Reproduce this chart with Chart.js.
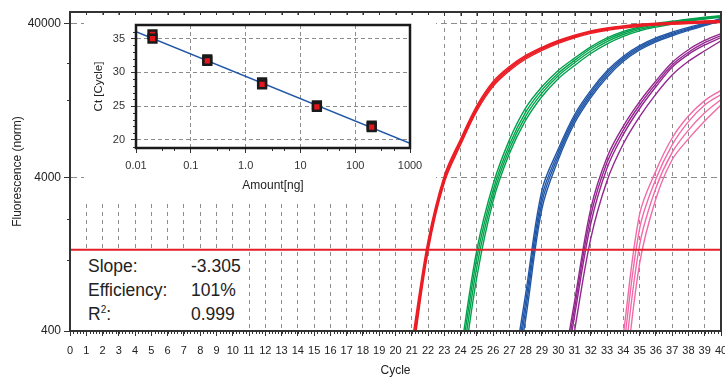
<!DOCTYPE html>
<html>
<head>
<meta charset="utf-8">
<script src="https://cdn.jsdelivr.net/npm/chart.js@4.4.1/dist/chart.umd.min.js"></script>
<style>
  html, body { margin: 0; padding: 0; background: #fff; }
  #wrap { position: relative; width: 725px; height: 377px; overflow: hidden; font-family: "Liberation Sans", Arial, sans-serif; }
  #main { position: absolute; left: 0; top: 0; }
  #inset { position: absolute; left: 84px; top: 15px; background: #fff; }
  #stats { position: absolute; left: 72px; top: 252px; width: 174px; height: 77px; background: #fff; color: #222; font-size: 17.5px; }
  #stats div { position: absolute; line-height: 20px; white-space: nowrap; }
  #stats sup { font-size: 10px; vertical-align: 7px; line-height: 0; }
</style>
</head>
<body>
<div id="wrap">
  <canvas id="main" width="725" height="377"></canvas>
  <canvas id="inset" width="352" height="188"></canvas>
  <div id="stats">
    <div style="left:16px; top:4px">Slope:</div><div style="left:119px; top:4px">-3.305</div>
    <div style="left:16px; top:28px">Efficiency:</div><div style="left:119px; top:28px">101%</div>
    <div style="left:16px; top:52px">R<sup>2</sup>:</div><div style="left:119px; top:52px">0.999</div>
  </div>
</div>
<script>
const FONT = '"Liberation Sans", Arial, sans-serif';

// amplification curves: fluorescence per cycle, 4 replicates per standard
const redCycles = [21, 22, 23, 24, 25, 26, 27, 28, 29, 30, 31, 32, 33, 34, 35, 36, 37, 38, 39, 40];
const redRuns = [
  [330, 1550, 4100, 7100, 11700, 16800, 21000, 24800, 28000, 31000, 33600, 35800, 37400, 38600, 39500, 40200, 40700, 41100, 41500, 41800],
  [300, 1460, 3950, 6900, 11400, 16400, 20600, 24400, 27600, 30600, 33200, 35400, 37000, 38300, 39200, 39900, 40400, 40800, 41200, 41500],
  [270, 1390, 3820, 6700, 11100, 16000, 20200, 24000, 27200, 30200, 32800, 35000, 36600, 37900, 38800, 39500, 40000, 40400, 40800, 41100],
  [250, 1320, 3700, 6500, 10800, 15600, 19700, 23500, 26700, 29700, 32300, 34500, 36100, 37400, 38300, 39000, 39500, 39900, 40300, 40600]
];
const greenCycles = [24, 25, 26, 27, 28, 29, 30, 31, 32, 33, 34, 35, 36, 37, 38, 39, 40];
const greenRuns = [
  [290, 1350, 3600, 7000, 11300, 15500, 19800, 23800, 28200, 32200, 35500, 38000, 39900, 41400, 42700, 43900, 45000],
  [250, 1200, 3300, 6500, 10600, 14800, 19000, 23000, 27400, 31400, 34800, 37400, 39300, 40900, 42300, 43500, 44600],
  [210, 1050, 3050, 6100, 10000, 14100, 18300, 22200, 26500, 30500, 33900, 36600, 38600, 40300, 41800, 43100, 44200],
  [170, 900, 2800, 5700, 9400, 13400, 17500, 21300, 25500, 29500, 33000, 35800, 37900, 39700, 41300, 42700, 43900]
];
const blueCycles = [27, 28, 29, 30, 31, 32, 33, 34, 35, 36, 37, 38, 39, 40];
const blueRuns = [
  [150, 700, 3300, 6100, 10200, 14700, 19700, 24500, 28700, 32200, 35100, 37700, 40200, 43100],
  [130, 620, 3000, 5800, 9800, 14200, 19100, 23900, 28100, 31600, 34500, 37100, 39700, 42700],
  [120, 550, 2750, 5500, 9400, 13700, 18500, 23300, 27500, 31000, 33900, 36600, 39200, 42300],
  [110, 480, 2500, 5200, 9000, 13200, 17900, 22700, 26900, 30400, 33300, 36100, 38700, 41900]
];
const purpleCycles = [30, 31, 32, 33, 34, 35, 36, 37, 38, 39, 40];
const purpleRuns = [
  [150, 620, 2500, 5400, 8600, 12400, 16900, 22300, 27000, 31000, 34400],
  [130, 560, 2250, 5000, 8100, 11800, 16200, 21500, 26000, 30000, 33400],
  [115, 500, 2000, 4600, 7600, 11200, 15500, 20800, 25200, 29000, 32400],
  [90, 400, 1600, 3800, 6600, 9900, 13900, 18500, 22700, 26600, 30800]
];
const pinkCycles = [33, 34, 35, 36, 37, 38, 39, 40];
const pinkRuns = [
  [60, 380, 2300, 4400, 7200, 10000, 12600, 14700],
  [45, 300, 1850, 3900, 6500, 9200, 11800, 13800],
  [30, 220, 1450, 3400, 5800, 8100, 10500, 12800],
  [20, 150, 1100, 2900, 5200, 7100, 9300, 11800]
];
const thresholdCycles = [0, 40];
const thresholdLevel = [1350, 1350];

// axes
const cycleTicks = [0, 1, 2, 3, 4, 5, 6, 7, 8, 9, 10, 11, 12, 13, 14, 15, 16, 17, 18, 19, 20,
  21, 22, 23, 24, 25, 26, 27, 28, 29, 30, 31, 32, 33, 34, 35, 36, 37, 38, 39, 40];
const yTicks = [400, 4000, 40000];
const yTickLabels = ['400', '4000', '40000'];
const yMinorTicks = [1150, 2150, 12800, 22000];

// standard curve inset
const stdAmount = [0.02, 0.02, 0.2, 0.2, 2, 2, 20, 20, 200, 200];
const stdCt = [35.6, 35.0, 31.9, 31.7, 28.5, 28.2, 25.1, 24.9, 22.1, 21.9];
const fitAmount = [0.01, 1000];
const fitCt = [36.0, 19.5];
const insetXTicks = [0.01, 0.1, 1, 10, 100, 1000];
const insetXLabels = ['0.01', '0.1', '1.0', '10', '100', '1000'];
const insetXMinor = [0.03, 0.05, 0.3, 0.5, 3, 5, 30, 50, 300, 500];
const insetYTicks = [20, 25, 30, 35];

const RED = '#ec1c24', GREEN = '#00a14b', BLUE = '#2157a6', PURPLE = '#93278f', PINK = '#f06ba8';
const GRID = '#8c8c8c', AXIS = '#333';

function curves(cycles, runs, color) {
  return runs.map(vals => ({
    data: vals.map((v, i) => ({ x: cycles[i], y: v })),
    borderColor: color,
    borderWidth: 1.4,
    pointRadius: 0,
    tension: 0.35,
    fill: false
  }));
}

// ticks that chart.js can't do on its own, plus the closed frame
const mainFrame = {
  id: 'mainFrame',
  afterDraw(chart) {
    const { ctx, chartArea: a, scales: { x, y } } = chart;
    ctx.save();
    ctx.strokeStyle = AXIS;
    ctx.lineWidth = 1;
    ctx.beginPath();
    for (let c = 0; c <= 40; c += 0.2) {
      const px = Math.round(x.getPixelForValue(c)) + 0.5;
      ctx.moveTo(px, a.bottom);
      ctx.lineTo(px, a.bottom + 3);
    }
    cycleTicks.forEach(c => {
      const px = Math.round(x.getPixelForValue(c)) + 0.5;
      ctx.moveTo(px, a.top);
      ctx.lineTo(px, a.top + 4);
    });
    yMinorTicks.forEach(v => {
      const py = Math.round(y.getPixelForValue(v)) + 0.5;
      ctx.moveTo(a.left - 3, py);
      ctx.lineTo(a.left, py);
    });
    ctx.stroke();
    ctx.lineWidth = 2;
    ctx.strokeRect(a.left, a.top, a.right - a.left, a.bottom - a.top);
    ctx.restore();
  }
};

const insetFrame = {
  id: 'insetFrame',
  afterDraw(chart) {
    const { ctx, chartArea: a, scales: { x, y } } = chart;
    ctx.save();
    ctx.strokeStyle = AXIS;
    ctx.lineWidth = 1;
    ctx.beginPath();
    insetXMinor.forEach(v => {
      const px = Math.round(x.getPixelForValue(v)) + 0.5;
      ctx.moveTo(px, a.bottom);
      ctx.lineTo(px, a.bottom + 3);
    });
    for (let v = 19; v <= 36; v++) {
      if (v % 5 === 0) continue;
      const py = Math.round(y.getPixelForValue(v)) + 0.5;
      ctx.moveTo(a.left - 3, py);
      ctx.lineTo(a.left, py);
    }
    ctx.stroke();
    ctx.strokeStyle = '#1a1a1a';
    ctx.lineWidth = 2.5;
    ctx.strokeRect(a.left, a.top, a.right - a.left, a.bottom - a.top);
    ctx.restore();
  }
};

new Chart(document.getElementById('main'), {
  type: 'line',
  data: {
    datasets: [
      {
        data: thresholdLevel.map((v, i) => ({ x: thresholdCycles[i], y: v })),
        borderColor: '#e41e26', borderWidth: 2, pointRadius: 0
      },
      ...curves(redCycles, redRuns, RED),
      ...curves(greenCycles, greenRuns, GREEN),
      ...curves(blueCycles, blueRuns, BLUE),
      ...curves(purpleCycles, purpleRuns, PURPLE),
      ...curves(pinkCycles, pinkRuns, PINK)
    ]
  },
  options: {
    responsive: false,
    animation: false,
    events: [],
    layout: { padding: { top: 12, right: 4, left: 0, bottom: 0 } },
    plugins: { legend: { display: false }, tooltip: { enabled: false } },
    scales: {
      x: {
        type: 'linear', min: 0, max: 40,
        afterBuildTicks: s => { s.ticks = cycleTicks.map(v => ({ value: v })); },
        afterFit: s => { s.height = 46; s.paddingLeft = 0; s.paddingRight = 0; },
        ticks: { autoSkip: false, maxRotation: 0, padding: 8, color: '#222', font: { family: FONT, size: 11 }, callback: v => String(v) },
        grid: { color: GRID, lineWidth: 1, tickLength: 5, tickColor: AXIS },
        border: { color: AXIS, width: 2, dash: [4, 4] },
        title: { display: true, text: 'Cycle', color: '#222', font: { family: FONT, size: 12 }, padding: { top: -1, bottom: -1 } }
      },
      y: {
        type: 'logarithmic', min: 400, max: 47500,
        afterBuildTicks: s => { s.ticks = yTicks.map(v => ({ value: v })); },
        afterFit: s => { s.width = 70; s.paddingTop = 0; s.paddingBottom = 0; },
        ticks: { padding: 3, color: '#222', font: { family: FONT, size: 12 }, callback: v => yTickLabels[yTicks.indexOf(v)] },
        grid: { color: GRID, lineWidth: 1, tickLength: 6, tickColor: AXIS },
        border: { color: AXIS, width: 2, dash: [6, 4] },
        title: { display: true, text: 'Fluorescence (norm)', color: '#222', font: { family: FONT, size: 12 }, padding: { top: 10, bottom: 10 } }
      }
    }
  },
  plugins: [mainFrame]
});

new Chart(document.getElementById('inset'), {
  type: 'scatter',
  data: {
    datasets: [
      {
        data: stdCt.map((v, i) => ({ x: stdAmount[i], y: v })),
        pointStyle: 'rect', pointRadius: 5.5,
        backgroundColor: '#e3161d', borderColor: '#1a1a1a', borderWidth: 2.5
      },
      {
        data: fitCt.map((v, i) => ({ x: fitAmount[i], y: v })),
        showLine: true, borderColor: BLUE, borderWidth: 1.5, pointRadius: 0
      }
    ]
  },
  options: {
    responsive: false,
    animation: false,
    events: [],
    layout: { padding: { top: 10, right: 26, left: 0, bottom: 0 } },
    plugins: { legend: { display: false }, tooltip: { enabled: false } },
    scales: {
      x: {
        type: 'logarithmic', min: 0.01, max: 1000,
        afterBuildTicks: s => { s.ticks = insetXTicks.map(v => ({ value: v })); },
        afterFit: s => { s.height = 55; s.paddingLeft = 0; s.paddingRight = 0; },
        ticks: { autoSkip: false, maxRotation: 0, padding: 6, color: '#333', font: { family: FONT, size: 11 }, callback: (v, i) => insetXLabels[i] },
        grid: { color: GRID, lineWidth: 1, tickLength: 5, tickColor: AXIS },
        border: { color: AXIS, width: 2, dash: [4, 3] },
        title: { display: true, text: 'Amount[ng]', color: '#222', font: { family: FONT, size: 12 }, padding: { top: 10, bottom: 10 } }
      },
      y: {
        type: 'linear', min: 18.8, max: 37,
        afterBuildTicks: s => { s.ticks = insetYTicks.map(v => ({ value: v })); },
        afterFit: s => { s.width = 52; s.paddingTop = 0; s.paddingBottom = 0; },
        ticks: { padding: 6, color: '#333', font: { family: FONT, size: 11 }, callback: v => String(v) },
        grid: { color: GRID, lineWidth: 1, tickLength: 5, tickColor: AXIS },
        border: { color: AXIS, width: 2, dash: [4, 3] },
        title: { display: true, text: 'Ct [Cycle]', color: '#222', font: { family: FONT, size: 11.5 }, padding: { top: 8, bottom: 8 } }
      }
    }
  },
  plugins: [insetFrame]
});
</script>
</body>
</html>
